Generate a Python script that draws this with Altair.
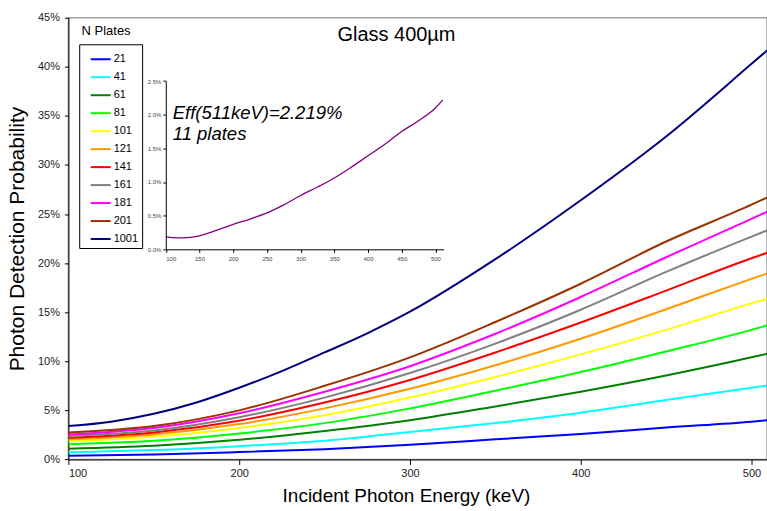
import altair as alt
import pandas as pd

# ---------------- data ----------------
plates = ["21", "41", "61", "81", "101", "121", "141", "161", "181", "201", "1001"]
colors = ["#0000FF", "#00FFFF", "#008000", "#00FF00", "#FFFF00", "#FF9900",
          "#FF0000", "#808080", "#FF00FF", "#993300", "#000080"]

energy = [100, 150, 200, 250, 300, 350, 400, 450, 500, 510]
p21 = [0.38, 0.50, 0.75, 1.05, 1.50, 2.05, 2.60, 3.25, 3.85, 4.00]
p41 = [0.72, 0.95, 1.35, 1.90, 2.80, 3.70, 4.75, 6.05, 7.30, 7.55]
p61 = [1.10, 1.40, 2.00, 2.90, 4.00, 5.40, 6.90, 8.55, 10.40, 10.80]
p81 = [1.55, 1.90, 2.65, 3.70, 5.20, 7.00, 8.90, 11.00, 13.20, 13.70]
p101 = [1.85, 2.30, 3.20, 4.50, 6.30, 8.40, 10.70, 13.20, 15.90, 16.40]
p121 = [2.05, 2.55, 3.60, 5.20, 7.20, 9.60, 12.30, 15.30, 18.40, 19.00]
p141 = [2.20, 2.75, 3.95, 5.80, 8.10, 10.90, 13.95, 17.20, 20.50, 21.10]
p161 = [2.40, 2.95, 4.30, 6.30, 8.80, 11.80, 15.25, 19.10, 22.70, 23.40]
p181 = [2.55, 3.20, 4.70, 6.90, 9.50, 12.80, 16.55, 20.60, 24.50, 25.30]
p201 = [2.75, 3.40, 5.00, 7.50, 10.40, 14.00, 17.90, 22.20, 25.95, 26.75]
energy_1001 = [100, 125, 150, 175, 200, 225, 250, 275, 300, 350, 400, 450, 500, 510]
p1001 = [3.40, 3.85, 4.65, 5.80, 7.30, 9.00, 10.90, 12.85, 15.05, 20.40, 26.40, 32.90, 40.30, 41.80]

inset_energy = [100, 110, 125, 150, 175, 200, 225, 250, 275, 300, 325, 350, 375,
                400, 425, 450, 475, 500, 511]
inset_eff = [0.19, 0.175, 0.17, 0.20, 0.28, 0.37, 0.45, 0.54, 0.66, 0.80, 0.925,
             1.06, 1.22, 1.39, 1.56, 1.75, 1.91, 2.10, 2.219]

x_ticks = [100, 200, 300, 400, 500]
y_ticks = [0, 5, 10, 15, 20, 25, 30, 35, 40, 45]
inset_x_ticks = [100, 150, 200, 250, 300, 350, 400, 450, 500]
inset_y_ticks = [0, 0.5, 1.0, 1.5, 2.0, 2.5]

# ---------------- tables ----------------
series = {"21": p21, "41": p41, "61": p61, "81": p81, "101": p101, "121": p121,
          "141": p141, "161": p161, "181": p181, "201": p201}
rows = []
for n, vals in series.items():
    for e, v in zip(energy, vals):
        rows.append({"E": e, "P": v, "N": n})
for e, v in zip(energy_1001, p1001):
    rows.append({"E": e, "P": v, "N": "1001"})
df = pd.DataFrame(rows)
df_inset = pd.DataFrame({"E": inset_energy, "P": inset_eff})

FONT = "Liberation Sans"
W, H = 699.5, 442.3

main = alt.Chart(df).mark_line(strokeWidth=2, clip=True, interpolate="monotone").encode(
    x=alt.X("E:Q",
            scale=alt.Scale(domain=[100, 100 + W / 1.71], nice=False, zero=False),
            axis=alt.Axis(values=x_ticks, title="Incident Photon Energy (keV)", grid=False,
                          tickSize=5, labelPadding=3, labelFontSize=11,
                          titleFontSize=19, titlePadding=8, titleX=338)),
    y=alt.Y("P:Q",
            scale=alt.Scale(domain=[0, 45], nice=False),
            axis=alt.Axis(values=y_ticks, labelExpr="datum.value + '%'",
                          title="Photon Detection Probability", grid=False,
                          tickSize=4, labelPadding=5, labelFontSize=11,
                          titleFontSize=21, titlePadding=10)),
    color=alt.Color("N:N", sort=plates,
                    scale=alt.Scale(domain=plates, range=colors),
                    legend=alt.Legend(orient="none", legendX=10.8, legendY=26.6, title=None,
                                      symbolType="stroke", symbolSize=400,
                                      symbolStrokeWidth=2, labelFontSize=11,
                                      labelFont=FONT, labelColor="black",
                                      strokeColor="black", fillColor="white",
                                      padding=4, rowPadding=2.0, symbolOffset=6.5,
                                      labelOffset=2)),
)

inset = alt.Chart(df_inset).mark_line(color="#800080", strokeWidth=1.3,
                                      interpolate="monotone").encode(
    x=alt.X("E:Q",
            scale=alt.Scale(domain=[100, 512], range=[97.5, 375.6], nice=False, zero=False),
            axis=alt.Axis(orient="bottom", offset=-210.4, values=inset_x_ticks, title=None,
                          grid=False, tickSize=3, labelFontSize=6, labelColor="#444444",
                          labelPadding=3)),
    y=alt.Y("P:Q",
            scale=alt.Scale(domain=[0, 2.5], range=[231.9, 63.4], nice=False),
            axis=alt.Axis(orient="left", offset=-97.5, values=inset_y_ticks, title=None,
                          labelExpr="format(datum.value, '.1f') + '%'",
                          grid=False, tickSize=3, labelFontSize=6, labelColor="#444444",
                          labelPadding=2)),
)


def label(txt, x, y, size, **kw):
    return alt.Chart(pd.DataFrame({"t": [txt]})).mark_text(
        fontSize=size, font=FONT, color="black", **kw
    ).encode(text="t:N", x=alt.value(x), y=alt.value(y))


title_txt = label("Glass 400µm", 328.5, 23.8, 20, align="center", baseline="alphabetic")
nplates = label("N Plates", 13.2, 17.0, 13, align="left", baseline="alphabetic")
eff1 = label("Eff(511keV)=2.219%", 104.5, 101.9, 18.5, align="left",
             baseline="alphabetic", fontStyle="italic")
eff2 = label("11 plates", 104.5, 122.6, 18.5, align="left",
             baseline="alphabetic", fontStyle="italic")

chart = alt.layer(main, inset, title_txt, nplates, eff1, eff2).resolve_scale(
    x="independent", y="independent"
).resolve_axis(x="independent", y="independent").properties(
    width=W, height=H,
    autosize=alt.AutoSizeParams(type="none"),
    padding={"left": 68.5, "top": 17.4, "right": 0, "bottom": 51.3},
).configure_view(
    stroke="#A0A0A0", strokeWidth=1.5
).configure_axis(
    domainColor="black", tickColor="black", labelColor="#222222",
    labelFont=FONT, titleFont=FONT, titleFontWeight="normal", titleColor="black",
)

chart.save("out.html", embed_options={"renderer": "svg", "actions": False})
